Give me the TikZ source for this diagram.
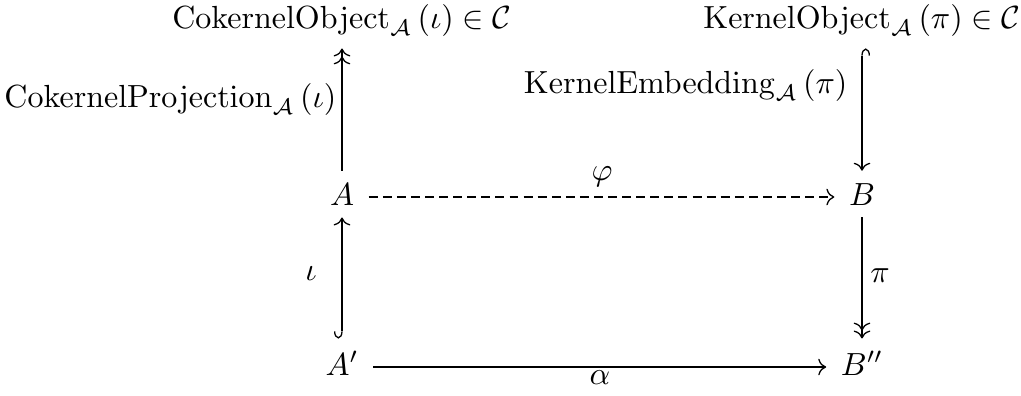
\documentclass[tikz,border=0pt]{standalone}
\usepackage{amsmath}
\usetikzlibrary{arrows.meta}
\begin{document}
\begin{tikzpicture}[x=0.3125pt,y=-0.3125pt,
  obj/.style={anchor=base,inner xsep=4.4pt,inner ysep=3.7pt},
  topobj/.style={anchor=base,inner sep=0pt},
  lab/.style={inner sep=0pt},
  mor/.style={line width=0.4pt},
  plain/.style={mor,-{Computer Modern Rightarrow}},
  epi/.style={mor,-{Computer Modern Rightarrow[]Computer Modern Rightarrow[]}},
  mono/.style={mor,{Hooks[right,length=2.2pt,width=5pt]}-{Computer Modern Rightarrow}},
  dashedarr/.style={plain,dash pattern=on 2.8pt off 1.6pt}
]
\useasboundingbox (0,0) rectangle (1021,395);
% objects
\node[topobj] (co) at (342,28) {$\mathrm{CokernelObject}_{\mathcal{A}}\left(\iota\right)\in\mathcal{C}$};
\node[topobj] (ko) at (862,28) {$\mathrm{KernelObject}_{\mathcal{A}}\left(\pi\right)\in\mathcal{C}$};
\node[obj] (a) at (342,205) {$A$};
\node[obj] (b) at (862,205) {$B$};
\node[obj] (a1) at (342,375) {$A'$};
\node[obj] (b2) at (862,375) {$B''$};
% morphisms
\draw[epi,shorten >=3.7pt] (a.north) -- (co.south);
\draw[mono,shorten <=3.7pt] (ko.south) -- (b.north);
\draw[dashedarr] ([yshift=2.5pt]a.base east) -- ([yshift=2.5pt]b.base west);
\draw[mono] (a1.north) -- (a.south);
\draw[epi] (b.south) -- (b2.north);
\draw[plain] ([yshift=2.5pt]a1.base east) -- ([yshift=2.5pt]b2.base west);
% labels
\node[lab,anchor=base east] (lcp) at (337,107) {$\mathrm{CokernelProjection}_{\mathcal{A}}\left(\iota\right)$};
\node[lab,anchor=base east] (lke) at (848,93) {$\mathrm{KernelEmbedding}_{\mathcal{A}}\left(\pi\right)$};
\node[lab,anchor=base] (lphi) at (602,180) {$\varphi$};
\node[lab,anchor=base] (lalpha) at (600,384) {$\alpha$};
\node[lab,anchor=base] (liota) at (311,280) {$\iota$};
\node[lab,anchor=base] (lpi) at (880,282) {$\pi$};
\end{tikzpicture}
\end{document}
